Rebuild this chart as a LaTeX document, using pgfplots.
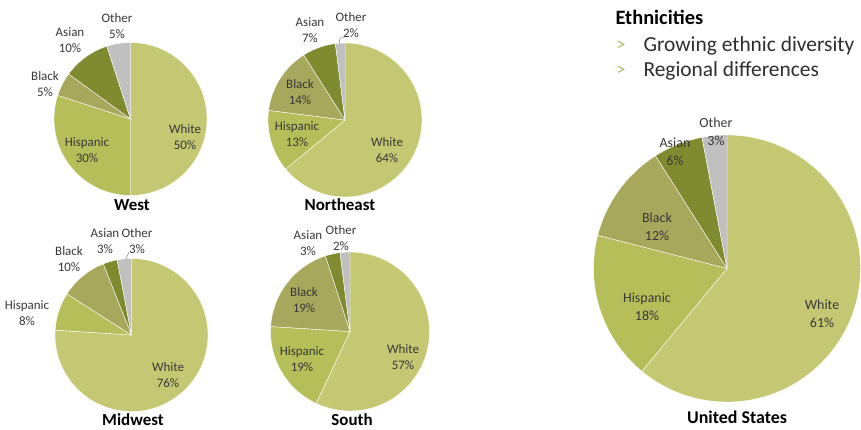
\documentclass[border=0pt]{standalone}
\usepackage{pgfplots}
\pgfplotsset{compat=1.18}
\usepackage{pgfplotstable}
\usepackage{fontspec}
\setmainfont{Carlito}

\definecolor{pc0}{RGB}{196,200,114}
\definecolor{pc1}{RGB}{181,190,88}
\definecolor{pc2}{RGB}{168,168,92}
\definecolor{pc3}{RGB}{128,138,46}
\definecolor{pc4}{RGB}{192,192,192}
\definecolor{labc}{RGB}{56,56,56}
\definecolor{bulc}{RGB}{170,184,100}

% share of each group, in %, clockwise from 12 o'clock
\pgfplotstableread{
group value
White 50
Hispanic 30
Black 5
Asian 10
Other 5
}\westdata
\pgfplotstableread{
group value
White 64
Hispanic 13
Black 14
Asian 7
Other 2
}\northeastdata
\pgfplotstableread{
group value
White 76
Hispanic 8
Black 10
Asian 3
Other 3
}\midwestdata
\pgfplotstableread{
group value
White 57
Hispanic 19
Black 19
Asian 3
Other 2
}\southdata
\pgfplotstableread{
group value
White 61
Hispanic 18
Black 12
Asian 6
Other 3
}\usdata

\newcommand\drawpie[2]{%
  \xdef\cum{0}%
  \pgfplotsinvokeforeach{0,...,4}{%
    \pgfplotstablegetelem{##1}{value}\of{#1}%
    \pgfmathsetmacro\angA{90-3.6*\cum}%
    \pgfmathsetmacro\cumnew{\cum+\pgfplotsretval}%
    \pgfmathsetmacro\angB{90-3.6*\cumnew}%
    \xdef\cum{\cumnew}%
    \edef\temp{\noexpand\fill[fill=pc##1, draw=white, line width=0.4pt]
      (axis cs:0,0) -- (axis cs:{cos(\angA)},{sin(\angA)})
      arc[start angle=\angA, end angle=\angB, radius=#2bp] -- cycle;}%
    \temp
  }%
}

\pgfplotsset{pieaxis/.style={anchor=center, hide axis, scale only axis,
  xmin=-1, xmax=1, ymin=-1, ymax=1, clip=false}}

\newcommand\lab[3]{\node[labc, align=center, font=\fontsize{13}{16}\selectfont] at (#1,#2) {#3};}
\newcommand\labL[3]{\node[labc, align=center, font=\fontsize{14}{18.5}\selectfont] at (#1,#2) {#3};}

\begin{document}
\begin{tikzpicture}
\path[use as bounding box] (0,0) rectangle (861bp,430bp);

\begin{axis}[pieaxis, at={(130.5bp,311bp)}, width=153bp, height=153bp]
  \drawpie{\westdata}{76.5}
\end{axis}
\begin{axis}[pieaxis, at={(345bp,310bp)}, width=154bp, height=154bp]
  \drawpie{\northeastdata}{77}
\end{axis}
\begin{axis}[pieaxis, at={(131.5bp,95bp)}, width=153bp, height=153bp]
  \drawpie{\midwestdata}{76.5}
\end{axis}
\begin{axis}[pieaxis, at={(350bp,98.5bp)}, width=159bp, height=159bp]
  \drawpie{\southdata}{79.5}
\end{axis}
\begin{axis}[pieaxis, at={(727bp,161.5bp)}, width=267bp, height=267bp]
  \drawpie{\usdata}{133.5}
\end{axis}

\begin{scope}[x=1bp, y=-1bp, shift={(0,430bp)}]
  % West
  \lab{117}{26}{Other\\5\%}
  \lab{70}{40}{Asian\\10\%}
  \lab{45}{84}{Black\\5\%}
  \lab{87}{150}{Hispanic\\30\%}
  \lab{185}{137}{White\\50\%}
  \node[font=\fontsize{17}{20}\selectfont\bfseries] at (132,205) {West};
  % Northeast
  \lab{310}{30}{Asian\\7\%}
  \lab{351}{25}{Other\\2\%}
  \draw[gray, line width=0.5pt] (339,44) -- (340,38) -- (344,38);
  \lab{300}{92}{Black\\14\%}
  \lab{297}{134}{Hispanic\\13\%}
  \lab{387}{150}{White\\64\%}
  \node[font=\fontsize{17}{20}\selectfont\bfseries] at (340,205) {Northeast};
  % Midwest
  \lab{105}{241}{Asian\\3\%}
  \lab{137}{241}{Other\\3\%}
  \draw[gray, line width=0.5pt] (126,259) -- (129,252);
  \lab{69}{259}{Black\\10\%}
  \lab{27}{313}{Hispanic\\8\%}
  \lab{168}{375}{White\\76\%}
  \node[font=\fontsize{17}{20}\selectfont\bfseries] at (133,420) {Midwest};
  % South
  \lab{308}{243}{Asian\\3\%}
  \lab{341}{238}{Other\\2\%}
  \lab{304}{300}{Black\\19\%}
  \lab{302}{359}{Hispanic\\19\%}
  \lab{403}{357}{White\\57\%}
  \node[font=\fontsize{17}{20}\selectfont\bfseries] at (352,420) {South};
  % United States
  \labL{716}{132}{Other\\3\%}
  \labL{675}{152}{Asian\\6\%}
  \labL{657}{227}{Black\\12\%}
  \labL{647}{307}{Hispanic\\18\%}
  \labL{822}{314}{White\\61\%}
  \node[font=\fontsize{18}{21}\selectfont\bfseries] at (737,417) {United States};
  % header
  \node[anchor=west, font=\fontsize{20.5}{24}\selectfont\bfseries] at (612,17) {Ethnicities};
  \node[anchor=west, bulc, font=\fontsize{18}{20}\selectfont] at (613,46) {>};
  \node[anchor=west, bulc, font=\fontsize{18}{20}\selectfont] at (613,71) {>};
  \node[anchor=west, text=black!82, font=\fontsize{21.5}{24}\selectfont] at (640,46) {Growing ethnic diversity};
  \node[anchor=west, text=black!82, font=\fontsize{21.5}{24}\selectfont] at (640,71) {Regional differences};
\end{scope}
\end{tikzpicture}
\end{document}
